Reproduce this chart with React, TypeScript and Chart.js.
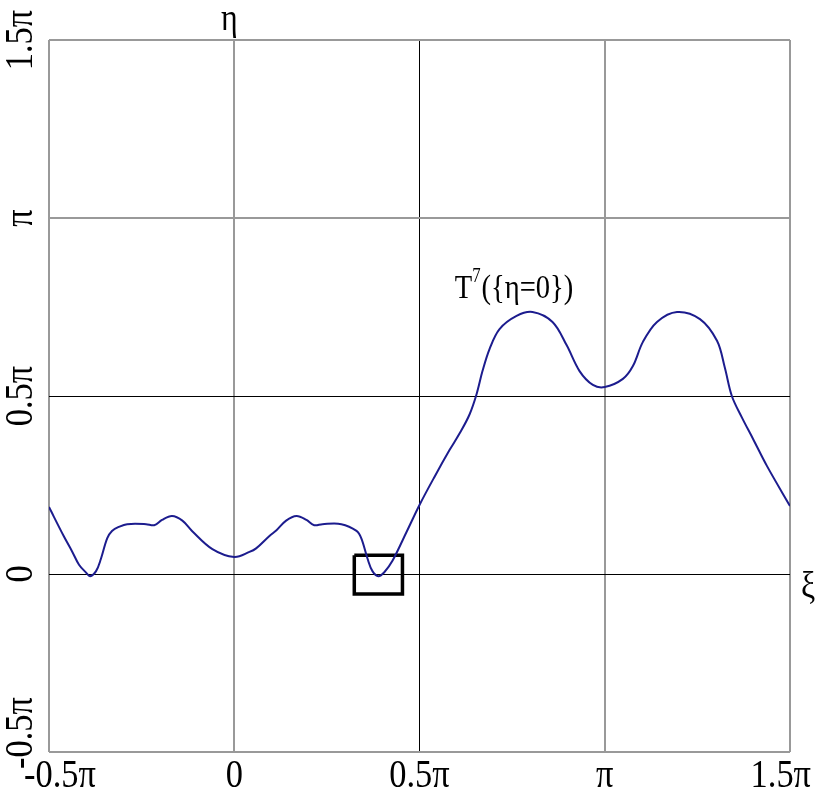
import React, { useEffect, useRef } from "react";
import { Chart, registerables } from "chart.js";

Chart.register(...registerables);

// Values in units of π
const curveX = [-0.5, -0.46, -0.438, -0.419, -0.4, -0.389, -0.373, -0.36, -0.343, -0.33, -0.31, -0.289, -0.238, -0.216, -0.195, -0.168, -0.14, -0.114, -0.059, 0, 0.041, 0.059, 0.095, 0.114, 0.14, 0.168, 0.195, 0.216, 0.238, 0.289, 0.33, 0.343, 0.36, 0.373, 0.389, 0.405, 0.427, 0.465, 0.5, 0.54, 0.581, 0.61, 0.635, 0.654, 0.67, 0.689, 0.716, 0.762, 0.805, 0.859, 0.897, 0.932, 0.968, 1.0, 1.049, 1.076, 1.103, 1.141, 1.195, 1.257, 1.303, 1.324, 1.343, 1.37, 1.4, 1.438, 1.5];
const curveY = [0.188, 0.106, 0.064, 0.026, 0.004, -0.006, 0.008, 0.042, 0.1, 0.121, 0.133, 0.14, 0.14, 0.137, 0.152, 0.163, 0.15, 0.121, 0.07, 0.048, 0.062, 0.072, 0.107, 0.123, 0.15, 0.163, 0.152, 0.137, 0.14, 0.14, 0.121, 0.1, 0.042, 0.008, -0.006, 0.005, 0.037, 0.118, 0.194, 0.272, 0.348, 0.398, 0.448, 0.505, 0.57, 0.632, 0.688, 0.725, 0.736, 0.708, 0.643, 0.57, 0.531, 0.525, 0.548, 0.584, 0.652, 0.708, 0.736, 0.716, 0.655, 0.58, 0.5, 0.44, 0.38, 0.303, 0.191];

const boxX = [0.324, 0.454, 0.454, 0.324, 0.324];
const boxY = [0.053, 0.053, -0.056, -0.056, 0.053];

const xTickValues = [-0.5, 0, 0.5, 1, 1.5];
const xTickLabels = ["-0.5π", "0", "0.5π", "π", "1.5π"];
const yTickValues = [-0.5, 0, 0.5, 1, 1.5];
const yTickLabels = ["-0.5π", "0", "0.5π", "π", "1.5π"];

const xAxisName = "ξ";
const yAxisName = "η";
const curveLabel = { main: "T", sup: "7", rest: "({η=0})", x: 0.595, y: 0.8 };

const FONT = '"Liberation Serif", "Times New Roman", serif';
const SX = 0.84; // horizontal squeeze of the lettering

function squeezed(ctx: any, text: string, x: number, y: number, size: number, align: "left" | "center") {
  ctx.save();
  ctx.font = `${size}px ${FONT}`;
  ctx.textBaseline = "middle";
  ctx.textAlign = align;
  ctx.translate(x, y);
  ctx.scale(SX, 1);
  ctx.fillText(text, 0, 0);
  const w = ctx.measureText(text).width * SX;
  ctx.restore();
  return w;
}

function widthOf(ctx: any, text: string, size: number) {
  ctx.save();
  ctx.font = `${size}px ${FONT}`;
  const w = ctx.measureText(text).width * SX;
  ctx.restore();
  return w;
}

const labelsPlugin = {
  id: "customLabels",
  afterDraw(chart: any) {
    const ctx = chart.ctx;
    const xs = chart.scales.x;
    const ys = chart.scales.y;
    const W = chart.width;
    const H = chart.height;
    ctx.save();
    ctx.fillStyle = "#000";
    const size = 41;
    // x tick labels
    xTickValues.forEach((v, i) => {
      const t = xTickLabels[i];
      const w = widthOf(ctx, t, size);
      let left = xs.getPixelForValue(v) - w / 2;
      left = Math.max(24, Math.min(left, W - 19 - w));
      squeezed(ctx, t, left, ys.bottom + 24, size, "left");
    });
    // y tick labels, rotated
    yTickValues.forEach((v, i) => {
      const t = yTickLabels[i];
      const w = widthOf(ctx, t, size);
      let c = ys.getPixelForValue(v);
      c = Math.max(5 + w / 2, Math.min(c, H - 28 - w / 2));
      ctx.save();
      ctx.translate(21, c);
      ctx.rotate(-Math.PI / 2);
      squeezed(ctx, t, 0, 0, size, "center");
      ctx.restore();
    });
    // axis names
    squeezed(ctx, yAxisName, xs.getPixelForValue(0) - 5, ys.top - 20, 38, "center");
    squeezed(ctx, xAxisName, xs.right + 18, ys.getPixelForValue(0) + 14, 38, "center");
    // curve label
    const lx = xs.getPixelForValue(curveLabel.x);
    const ly = ys.getPixelForValue(curveLabel.y);
    let px = lx;
    px += squeezed(ctx, curveLabel.main, px, ly, 34, "left");
    px += squeezed(ctx, curveLabel.sup, px, ly - 12, 20, "left") + 1;
    squeezed(ctx, curveLabel.rest, px, ly, 34, "left");
    ctx.restore();
  },
};

const gridColor = (ctx: any) => {
  const v = ctx.tick ? ctx.tick.value : null;
  return v === 0.5 || v === 0 ? "#000" : "#999";
};
const gridWidth = (ctx: any) => {
  const v = ctx.tick ? ctx.tick.value : null;
  return v === 0.5 || v === 0 ? 1 : 2;
};
const xGridColor = (ctx: any) => {
  const v = ctx.tick ? ctx.tick.value : null;
  return v === 0.5 ? "#000" : "#999";
};
const xGridWidth = (ctx: any) => {
  const v = ctx.tick ? ctx.tick.value : null;
  return v === 0.5 ? 1 : 2;
};

export default function App() {
  const ref = useRef<HTMLCanvasElement | null>(null);
  useEffect(() => {
    if (!ref.current) return;
    const chart = new Chart(ref.current, {
      type: "line",
      data: {
        datasets: [
          {
            data: curveX.map((x, i) => ({ x, y: curveY[i] })),
            borderColor: "#1c1c8e",
            borderWidth: 2,
            pointRadius: 0,
            tension: 0.35,
            fill: false,
          },
          {
            data: boxX.map((x, i) => ({ x, y: boxY[i] })),
            borderColor: "#000",
            borderWidth: 3.5,
            pointRadius: 0,
            tension: 0,
            fill: false,
          },
        ],
      },
      options: {
        animation: false,
        responsive: false,
        layout: { padding: { left: 49, right: 40, top: 40, bottom: 45 } },
        plugins: { legend: { display: false }, tooltip: { enabled: false } },
        scales: {
          x: {
            type: "linear",
            min: -0.5,
            max: 1.5,
            ticks: { display: false, stepSize: 0.5 },
            grid: { color: xGridColor, lineWidth: xGridWidth, drawTicks: false },
            border: { display: false },
          },
          y: {
            type: "linear",
            min: -0.5,
            max: 1.5,
            ticks: { display: false, stepSize: 0.5 },
            grid: { color: gridColor, lineWidth: gridWidth, drawTicks: false },
            border: { display: false },
          },
        },
      },
      plugins: [labelsPlugin],
    });
    return () => chart.destroy();
  }, []);
  return (
    <div style={{ position: "fixed", left: 0, top: 0, width: 830, height: 797, background: "#fff" }}>
      <canvas ref={ref} width={830} height={797} />
    </div>
  );
}
